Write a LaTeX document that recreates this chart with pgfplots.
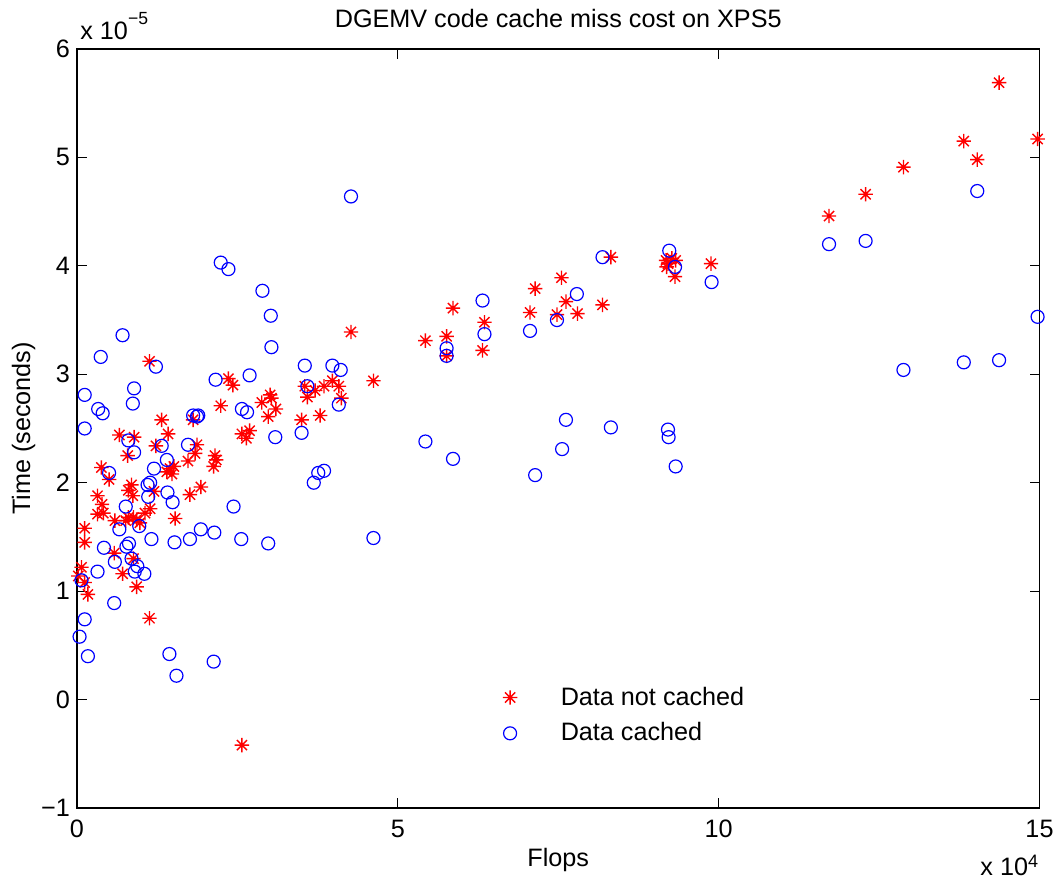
\documentclass[border=0pt]{standalone}
\usepackage{fontspec}
\setmainfont{Liberation Sans}
\usepackage{pgfplots}
\pgfplotsset{compat=1.18}

% MATLAB style '*' marker: plus and cross on top of each other
\pgfdeclareplotmark{mstar}{%
  \pgfpathmoveto{\pgfqpoint{0pt}{\pgfplotmarksize}}%
  \pgfpathlineto{\pgfqpoint{0pt}{-\pgfplotmarksize}}%
  \pgfpathmoveto{\pgfqpoint{\pgfplotmarksize}{0pt}}%
  \pgfpathlineto{\pgfqpoint{-\pgfplotmarksize}{0pt}}%
  \pgfpathmoveto{\pgfqpoint{0.707\pgfplotmarksize}{0.707\pgfplotmarksize}}%
  \pgfpathlineto{\pgfqpoint{-0.707\pgfplotmarksize}{-0.707\pgfplotmarksize}}%
  \pgfpathmoveto{\pgfqpoint{-0.707\pgfplotmarksize}{0.707\pgfplotmarksize}}%
  \pgfpathlineto{\pgfqpoint{0.707\pgfplotmarksize}{-0.707\pgfplotmarksize}}%
  \pgfusepathqstroke}

\newcommand\fs{\fontsize{12.6bp}{15bp}\selectfont}

\begin{document}
\begin{tikzpicture}
\begin{axis}[
    name=ax,
    width=481.25bp, height=379.5bp, scale only axis,
    xmin=0, xmax=15, ymin=-1, ymax=6,
    xtick={0,5,10,15}, xticklabels={0,5,10,15},
    ytick={-1,0,1,2,3,4,5,6}, yticklabels={−1,0,1,2,3,4,5,6},
    tick align=inside, major tick length=5bp,
    tick style={line width=0.5bp, black},
    axis line style={line width=0.6bp},
    ticklabel style={font=\fs},
    xticklabel style={yshift=-2.6bp},
    label style={font=\fs},
    xlabel={Flops},
    xlabel style={at={(axis description cs:0.5,-0.0777)}, anchor=base},
    ylabel={Time (seconds)},
    ylabel style={at={(axis description cs:-0.0488,0.5)}, anchor=base},
    title={DGEMV code cache miss cost on XPS5},
    title style={font=\fs, at={(axis description cs:0.5,1.0277)}, anchor=base, yshift=-6pt},
    clip=false,
    legend cell align=left,
    legend image code/.code={\draw[#1] plot coordinates {(0bp,0bp)}; \path (-4bp,0bp) (23bp,0bp);},
    legend style={draw=none, fill=none, font=\fs, row sep=3.3bp,
        at={(axis description cs:0.4343,0.1706)}, anchor=north west},
]
\addplot[only marks, mark=mstar, mark size=3.6bp, red, line width=0.7bp] coordinates {
(1.13,3.12) (2.36,2.96) (2.43,2.90) (2.24,2.71) (1.32,2.58) (1.81,2.58)
(1.42,2.45) (0.66,2.44) (0.89,2.42) (1.23,2.34) (1.87,2.35) (0.79,2.25)
(1.84,2.27) (1.73,2.20) (2.15,2.25) (2.17,2.21) (2.13,2.15) (1.51,2.15)
(1.45,2.13) (1.48,2.08) (1.40,2.10) (0.38,2.14) (0.50,2.03) (0.85,1.98)
(0.80,1.93) (0.87,1.88) (1.20,1.92) (1.93,1.96) (1.76,1.89) (0.32,1.88)
(0.39,1.80) (1.53,1.67) (0.32,1.71) (0.41,1.72) (1.14,1.76) (1.06,1.72)
(0.80,1.68) (0.88,1.68) (0.59,1.65) (0.76,1.65) (0.93,1.66) (0.98,1.63)
(0.12,1.58) (0.12,1.45) (0.58,1.35) (0.88,1.30) (0.07,1.22) (0.71,1.16)
(0.02,1.14) (0.12,1.08) (0.93,1.04) (0.17,0.97) (1.13,0.75)
(4.27,3.39) (4.62,2.94) (2.88,2.74) (3.01,2.81) (3.03,2.78) (3.10,2.68)
(2.98,2.61) (3.55,2.89) (3.59,2.79) (3.71,2.85) (3.85,2.89) (3.98,2.94)
(4.08,2.89) (4.12,2.78) (3.50,2.58) (3.79,2.62) (2.57,2.45) (2.69,2.48)
(2.64,2.41)
(8.32,4.08) (7.55,3.89) (7.14,3.79) (5.86,3.61) (6.35,3.48) (7.62,3.67)
(8.19,3.64) (7.06,3.57) (7.48,3.55) (7.80,3.56) (5.43,3.31) (5.76,3.35)
(5.76,3.17) (6.32,3.22) (9.18,4.05) (9.21,4.02) (9.27,4.07) (9.33,4.05)
(9.19,3.99) (9.32,3.90) (9.88,4.02)
(14.37,5.69) (13.82,5.15) (14.03,4.98) (14.97,5.17) (12.88,4.91)
(12.29,4.66) (11.72,4.46) (2.57,-0.42)
};
\addlegendentry{Data not cached}
\addplot[only marks, mark=o, mark size=3.25bp, blue, line width=0.6bp] coordinates {
(0.71,3.36) (0.37,3.16) (1.23,3.07) (2.16,2.95) (0.12,2.81) (0.89,2.87)
(0.87,2.73) (0.33,2.68) (0.40,2.64) (0.12,2.50) (1.81,2.62) (1.87,2.61)
(1.89,2.62) (0.80,2.39) (1.32,2.34) (0.89,2.28) (1.73,2.35) (1.40,2.21)
(1.20,2.13) (0.50,2.09) (1.10,1.98) (1.14,2.00) (1.41,1.91) (1.49,1.82)
(0.76,1.78) (1.11,1.87) (2.44,1.78) (0.66,1.57) (0.97,1.60) (1.16,1.48)
(1.52,1.45) (1.76,1.48) (1.93,1.57) (2.14,1.54) (2.56,1.48) (0.42,1.40)
(0.77,1.41) (0.81,1.44) (0.59,1.27) (0.85,1.30) (0.94,1.23) (0.90,1.18)
(1.05,1.16) (0.32,1.18) (0.07,1.10) (0.58,0.89) (0.12,0.74) (0.04,0.58)
(0.17,0.40) (1.44,0.42) (2.13,0.35) (1.55,0.22)
(2.24,4.03) (2.36,3.97) (2.89,3.77) (3.02,3.54) (3.03,3.25) (3.55,3.08)
(3.98,3.08) (4.11,3.04) (2.69,2.99) (3.59,2.89) (4.08,2.72) (2.57,2.68)
(2.65,2.65) (3.09,2.42) (3.50,2.46) (3.76,2.09) (3.85,2.11) (3.69,2.00)
(2.98,1.44) (4.62,1.49) (4.27,4.64)
(8.19,4.08) (7.79,3.74) (6.32,3.68) (6.35,3.37) (7.06,3.40) (7.48,3.50)
(5.76,3.24) (5.76,3.17) (5.43,2.38) (5.86,2.22) (7.62,2.58) (8.32,2.51)
(7.56,2.31) (7.14,2.07) (9.23,4.14) (9.32,3.99) (9.89,3.85) (9.21,2.49)
(9.22,2.42) (9.33,2.15)
(14.03,4.69) (11.72,4.20) (12.29,4.23) (14.97,3.53) (12.88,3.04)
(13.82,3.11) (14.37,3.13)
};
\addlegendentry{Data cached}
\end{axis}
% exponent labels, MATLAB style
\node[anchor=base west, font=\fs, inner sep=0pt] at ([xshift=1.5bp,yshift=4.5bp]ax.north west)
    {x 10\raisebox{7.5bp}{\fontsize{8.8bp}{10bp}\selectfont −5}};
\node[anchor=base east, font=\fs, inner sep=0pt] at ([xshift=-0.5bp,yshift=-33.5bp]ax.south east)
    {x 10\raisebox{4bp}{\fontsize{9bp}{10bp}\selectfont 4}};
\pgfresetboundingbox
\path[use as bounding box] ([xshift=-38.5bp,yshift=-37bp]ax.south west)
    rectangle ([xshift=8.75bp,yshift=24.5bp]ax.north east);
\end{tikzpicture}
\end{document}
